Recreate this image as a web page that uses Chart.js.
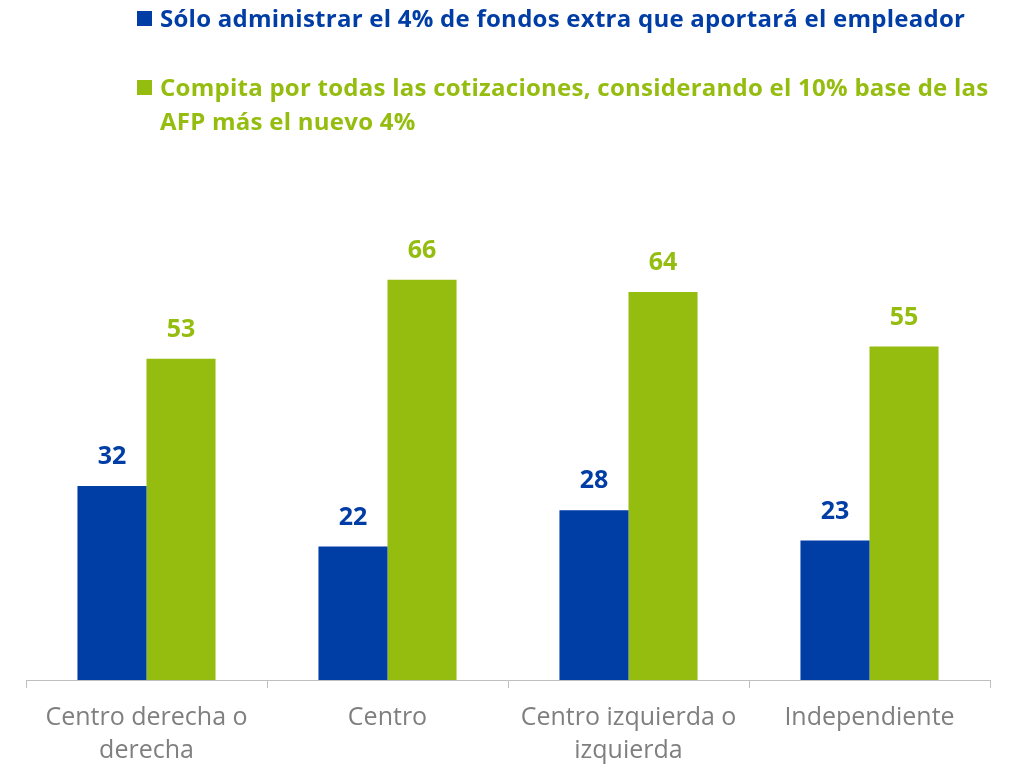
<!DOCTYPE html>
<html>
<head>
<meta charset="utf-8">
<script src="https://cdn.jsdelivr.net/npm/chart.js@4/dist/chart.umd.min.js"></script>
<style>
    body { margin: 0; background: #fff; }
    #wrap { position: relative; width: 1015px; height: 767px; }
    #legend { position: absolute; left: 137px; top: 0; width: 870px; font-family: "Open Sans", sans-serif; font-weight: bold; font-size: 24px; letter-spacing: 0.25px; }
    .item { position: absolute; left: 0; padding-left: 23px; line-height: 34px; white-space: nowrap; }
    .item span.box { position: absolute; left: 0; top: 10px; width: 15px; height: 15px; }
</style>
</head>
<body>
<div id="wrap">
    <canvas id="chart" width="1015" height="767"></canvas>
    <div id="legend"></div>
</div>
<script>
// categories and values
let labels = [['Centro derecha o', 'derecha'], 'Centro', ['Centro izquierda o', 'izquierda'], 'Independiente']
let serieNames = ['Sólo administrar el 4% de fondos extra que aportará el empleador', 'Compita por todas las cotizaciones, considerando el 10% base de las AFP más el nuevo 4%']
let soloCuatro = [32, 22, 28, 23]
let todas = [53, 66, 64, 55]
let colors = ['#003DA5', '#95BD0F']

// legend (html so the second item can wrap)
let legendTop = [1, 70]
let legendText = [
    [serieNames[0]],
    ['Compita por todas las cotizaciones, considerando el 10% base de las', 'AFP más el nuevo 4%']
]
legendText.forEach(function(lines, i) {
    let div = document.createElement('div')
    div.className = 'item'
    div.style.top = legendTop[i] + 'px'
    div.style.color = colors[i]
    div.innerHTML = `<span class="box" style="background:${colors[i]}"></span>` + lines.join('<br>')
    document.getElementById('legend').appendChild(div)
})

// value labels above bars
const valueLabels = {
    id: 'valueLabels',
    afterDatasetsDraw(chart) {
        let ctx = chart.ctx
        ctx.save()
        ctx.font = 'bold 25px "Open Sans"'
        ctx.textAlign = 'center'
        ctx.textBaseline = 'middle'
        chart.data.datasets.forEach(function(ds, i) {
            let meta = chart.getDatasetMeta(i)
            meta.data.forEach(function(bar, j) {
                ctx.fillStyle = colors[i]
                ctx.fillText(ds.data[j], bar.x, bar.y - 29)
            })
        })
        ctx.restore()
    }
}

var ctx = document.getElementById('chart').getContext('2d')
var chart = new Chart(ctx, {
    type: 'bar',
    data: {
        labels: labels,
        datasets: [{
            label: serieNames[0],
            data: soloCuatro,
            backgroundColor: colors[0]
        }, {
            label: serieNames[1],
            data: todas,
            backgroundColor: colors[1]
        }]
    },
    options: {
        responsive: false,
        animation: false,
        layout: { padding: { left: 26, right: 25, top: 198, bottom: 0 } },
        plugins: { legend: { display: false }, tooltip: { enabled: false } },
        datasets: { bar: { categoryPercentage: 0.573, barPercentage: 1 } },
        scales: {
            x: {
                grid: { drawOnChartArea: false, drawTicks: true, tickLength: 8, color: '#BFBFBF' },
                border: { color: '#BFBFBF', width: 1 },
                ticks: { color: '#7F7F7F', font: { family: 'Open Sans', size: 25, lineHeight: 1.32 }, padding: 13, maxRotation: 0 },
                afterFit: function(scale) { scale.height = 87 }
            },
            y: {
                display: false,
                min: 0,
                max: 79.5
            }
        }
    },
    plugins: [valueLabels]
})
</script>
</body>
</html>
